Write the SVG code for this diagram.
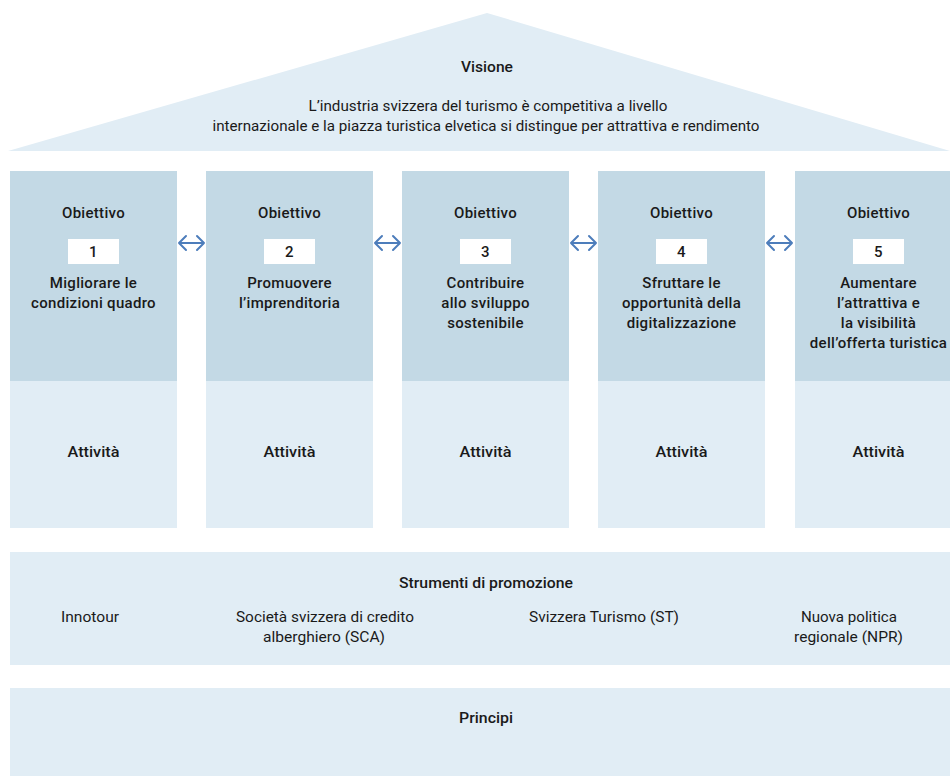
<svg xmlns="http://www.w3.org/2000/svg" width="950" height="776" viewBox="0 0 950 776">
<style>
.dark{fill:#c3d9e5}
.light{fill:#e1edf5}
.t{font-family:Roboto,"Liberation Sans",sans-serif;fill:#1a1a1a;text-anchor:middle}
.m{font-size:15px;font-weight:500;letter-spacing:0.3px}
.c{font-size:14px;font-weight:400}
.cb{font-size:14px;font-weight:500}
.num{fill:#ffffff}
.arr{fill:none;stroke:#4d7dbb;stroke-width:2;stroke-linecap:round;stroke-linejoin:round}
</style>
<rect width="950" height="776" fill="#ffffff"/>
<g id="vision">
<polygon class="light" points="487,13 8,151 950,151"/>
<text class="t cb" x="487" y="72" textLength="52" lengthAdjust="spacingAndGlyphs">Visione</text>
<text class="t c" x="488" y="111" textLength="359" lengthAdjust="spacingAndGlyphs">L’industria svizzera del turismo è competitiva a livello</text>
<text class="t c" x="486" y="131" textLength="547" lengthAdjust="spacingAndGlyphs">internazionale e la piazza turistica elvetica si distingue per attrattiva e rendimento</text>
</g>
<g id="obj1">
<rect class="dark" x="10" y="171" width="167" height="210"/>
<rect class="light" x="10" y="381" width="167" height="147"/>
<text class="t m" x="93.5" y="218">Obiettivo</text>
<rect class="num" x="68" y="239" width="51" height="25"/>
<text class="t m" x="93.5" y="257">1</text>
<text class="t m" x="93.5" y="288">Migliorare le</text>
<text class="t m" x="93.5" y="308">condizioni quadro</text>
<text class="t cb" x="93.5" y="457" textLength="52" lengthAdjust="spacingAndGlyphs">Attività</text>
</g>
<g id="obj2">
<rect class="dark" x="206" y="171" width="167" height="210"/>
<rect class="light" x="206" y="381" width="167" height="147"/>
<text class="t m" x="289.5" y="218">Obiettivo</text>
<rect class="num" x="264" y="239" width="51" height="25"/>
<text class="t m" x="289.5" y="257">2</text>
<text class="t m" x="289.5" y="288">Promuovere</text>
<text class="t m" x="289.5" y="308">l’imprenditoria</text>
<text class="t cb" x="289.5" y="457" textLength="52" lengthAdjust="spacingAndGlyphs">Attività</text>
</g>
<g id="obj3">
<rect class="dark" x="402" y="171" width="167" height="210"/>
<rect class="light" x="402" y="381" width="167" height="147"/>
<text class="t m" x="485.5" y="218">Obiettivo</text>
<rect class="num" x="460" y="239" width="51" height="25"/>
<text class="t m" x="485.5" y="257">3</text>
<text class="t m" x="485.5" y="288">Contribuire</text>
<text class="t m" x="485.5" y="308">allo sviluppo</text>
<text class="t m" x="485.5" y="328">sostenibile</text>
<text class="t cb" x="485.5" y="457" textLength="52" lengthAdjust="spacingAndGlyphs">Attività</text>
</g>
<g id="obj4">
<rect class="dark" x="598" y="171" width="167" height="210"/>
<rect class="light" x="598" y="381" width="167" height="147"/>
<text class="t m" x="681.5" y="218">Obiettivo</text>
<rect class="num" x="656" y="239" width="51" height="25"/>
<text class="t m" x="681.5" y="257">4</text>
<text class="t m" x="681.5" y="288">Sfruttare le</text>
<text class="t m" x="681.5" y="308">opportunità della</text>
<text class="t m" x="681.5" y="328">digitalizzazione</text>
<text class="t cb" x="681.5" y="457" textLength="52" lengthAdjust="spacingAndGlyphs">Attività</text>
</g>
<g id="obj5">
<rect class="dark" x="795" y="171" width="167" height="210"/>
<rect class="light" x="795" y="381" width="167" height="147"/>
<text class="t m" x="878.5" y="218">Obiettivo</text>
<rect class="num" x="853" y="239" width="51" height="25"/>
<text class="t m" x="878.5" y="257">5</text>
<text class="t m" x="878.5" y="288">Aumentare</text>
<text class="t m" x="878.5" y="308">l’attrattiva e</text>
<text class="t m" x="878.5" y="328">la visibilità</text>
<text class="t m" x="878.5" y="348">dell’offerta turistica</text>
<text class="t cb" x="878.5" y="457" textLength="52" lengthAdjust="spacingAndGlyphs">Attività</text>
</g>
<g id="connectors">
<path class="arr" d="M179,243 H204 M186,236 L179,243 L186,250 M197,236 L204,243 L197,250"/>
<path class="arr" d="M375,243 H400 M382,236 L375,243 L382,250 M393,236 L400,243 L393,250"/>
<path class="arr" d="M571,243 H596 M578,236 L571,243 L578,250 M589,236 L596,243 L589,250"/>
<path class="arr" d="M767,243 H792 M774,236 L767,243 L774,250 M785,236 L792,243 L785,250"/>
</g>
<g id="strumenti">
<rect class="light" x="10" y="552" width="940" height="113"/>
<text class="t cb" x="486" y="588" textLength="174" lengthAdjust="spacingAndGlyphs">Strumenti di promozione</text>
<text class="t c" x="90" y="622" textLength="58" lengthAdjust="spacingAndGlyphs">Innotour</text>
<text class="t c" x="325" y="622" textLength="178" lengthAdjust="spacingAndGlyphs">Società svizzera di credito</text>
<text class="t c" x="324" y="642" textLength="122" lengthAdjust="spacingAndGlyphs">alberghiero (SCA)</text>
<text class="t c" x="604" y="622" textLength="150" lengthAdjust="spacingAndGlyphs">Svizzera Turismo (ST)</text>
<text class="t c" x="849" y="622" textLength="96" lengthAdjust="spacingAndGlyphs">Nuova politica</text>
<text class="t c" x="848.5" y="642" textLength="109" lengthAdjust="spacingAndGlyphs">regionale (NPR)</text>
</g>
<g id="principi">
<rect class="light" x="10" y="688" width="940" height="88"/>
<text class="t cb" x="486" y="723" textLength="54" lengthAdjust="spacingAndGlyphs">Principi</text>
</g>
</svg>
